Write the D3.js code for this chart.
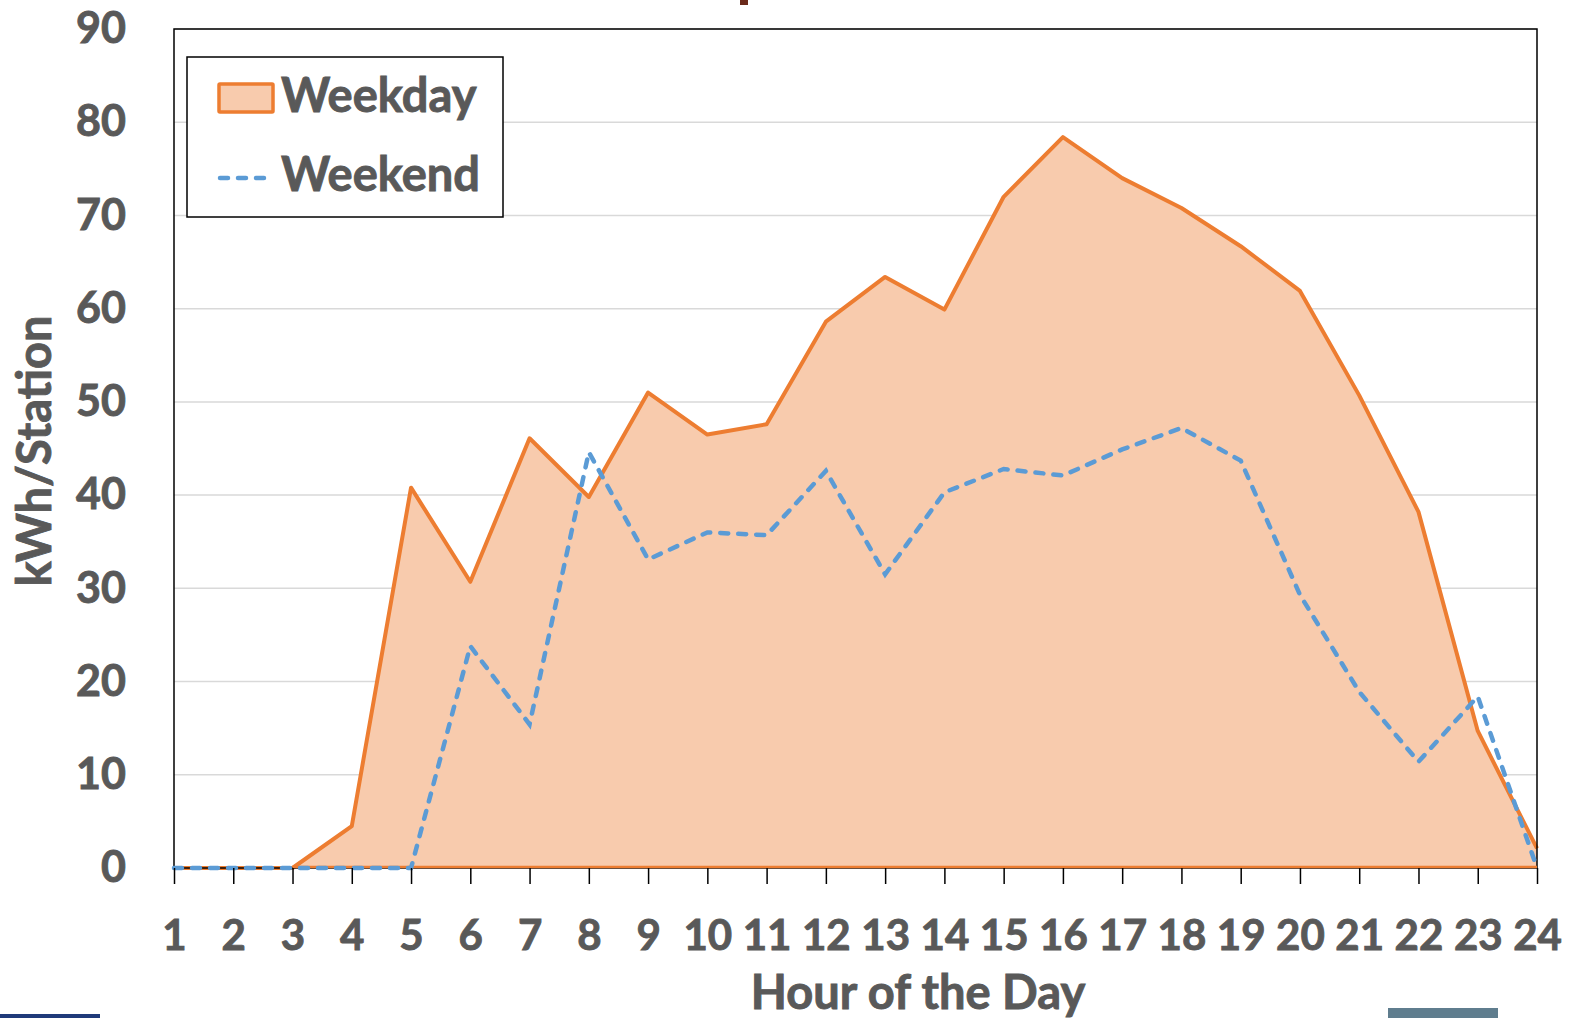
<!DOCTYPE html>
<html>
<head>
<meta charset="utf-8">
<script src="https://cdn.jsdelivr.net/npm/d3@7"></script>
<style>
  body { margin: 0; background: #fff; }
  text { font-family: Lato, "Open Sans", sans-serif; font-weight: bold; fill: #595959; stroke: #595959; stroke-width: 0.9px; }
</style>
</head>
<body>
<div id="chart"></div>
<script>

let hours = d3.range(1, 25);
let weekday = [0, 0, 0, 4.5, 40.8, 30.7, 46.1, 39.8, 51.0, 46.5, 47.6, 58.6,
               63.4, 59.9, 72.0, 78.4, 74.0, 70.8, 66.7, 61.9, 50.7, 38.2, 14.7, 2.1];
let weekend = [0, 0, 0, 0, 0, 23.8, 15.4, 44.6, 33.1, 36.0, 35.7, 42.6,
               31.5, 40.3, 42.8, 42.1, 44.9, 47.2, 43.7, 29.3, 18.9, 11.4, 18.4, 0];
let yTicks = [0, 10, 20, 30, 40, 50, 60, 70, 80, 90];
let seriesNames = ["Weekday", "Weekend"];

let width = 1577, height = 1018;
let plotL = 174, plotR = 1537, plotT = 29, plotB = 868;

let svg = d3.select('#chart').append('svg')
  .attr('width', width).attr('height', height);

let x = d3.scaleLinear().domain([1, 24]).range([plotL, plotR]);
let y = d3.scaleLinear().domain([0, 90]).range([plotB, plotT]);

// gridlines
svg.append('g').selectAll('line').data(yTicks.filter(d => d > 0)).join('line')
  .attr('x1', plotL).attr('x2', plotR)
  .attr('y1', d => y(d)).attr('y2', d => y(d))
  .attr('stroke', '#d9d9d9').attr('stroke-width', 1.5);

// weekday area
let pts = hours.map((h, i) => ({h: h, wd: weekday[i], we: weekend[i]}));
svg.append('path').datum(pts)
  .attr('d', d3.area().x(d => x(d.h)).y0(y(0)).y1(d => y(d.wd)))
  .attr('fill', '#f8cbad');
svg.append('path').datum(pts)
  .attr('d', d3.line().x(d => x(d.h)).y(d => y(d.wd)))
  .attr('fill', 'none').attr('stroke', '#ed7d31').attr('stroke-width', 4)
  .attr('stroke-linejoin', 'round');

// frame + axis
svg.append('path')
  .attr('d', `M${plotL},${plotB}V${plotT}H${plotR}V${plotB}`)
  .attr('fill', 'none').attr('stroke', '#000').attr('stroke-width', 1.5);
svg.append('line')
  .attr('x1', plotL).attr('x2', plotR).attr('y1', plotB).attr('y2', plotB)
  .attr('stroke', '#000').attr('stroke-width', 1.5);
svg.append('line')
  .attr('x1', x(3)).attr('x2', plotR).attr('y1', plotB - 1).attr('y2', plotB - 1)
  .attr('stroke', '#ed7d31').attr('stroke-width', 2.5);

// weekend dashed line
svg.append('path').datum(pts)
  .attr('d', d3.line().x(d => x(d.h)).y(d => y(d.we)))
  .attr('fill', 'none').attr('stroke', '#5b9bd5').attr('stroke-width', 4.5)
  .attr('stroke-dasharray', '8,10').attr('stroke-linecap', 'round');

// x axis ticks and labels
let xAxis = d3.axisBottom(x).tickValues(hours).tickSize(16).tickSizeOuter(0).tickPadding(36);
let gx = svg.append('g').attr('transform', `translate(0,${plotB})`).call(xAxis);
gx.select('.domain').remove();
gx.selectAll('.tick line').attr('stroke', '#000').attr('stroke-width', 1.5);
gx.selectAll('.tick text').attr('font-size', 42).attr('fill', '#595959')
  .attr('font-family', 'Lato, sans-serif').attr('font-weight', 'bold');

// y labels
let yAxis = d3.axisLeft(y).tickValues(yTicks).tickSize(0).tickPadding(48);
let gy = svg.append('g').attr('transform', `translate(${plotL},0)`).call(yAxis);
gy.select('.domain').remove();
gy.selectAll('.tick text').attr('font-size', 43).attr('fill', '#595959')
  .attr('font-family', 'Lato, sans-serif').attr('font-weight', 'bold');

// axis titles
svg.append('text').attr('x', 918).attr('y', 1009).attr('text-anchor', 'middle')
  .attr('font-size', 47).text('Hour of the Day');
svg.append('text').attr('transform', 'translate(51,451) rotate(-90)')
  .attr('text-anchor', 'middle').attr('font-size', 47).text('kWh/Station');

// legend
let lg = svg.append('g');
lg.append('rect').attr('x', 187).attr('y', 57).attr('width', 316).attr('height', 160)
  .attr('fill', '#fff').attr('stroke', '#000').attr('stroke-width', 1.5);
lg.append('rect').attr('x', 219).attr('y', 84).attr('width', 54).attr('height', 28)
  .attr('fill', '#f8cbad').attr('stroke', '#ed7d31').attr('stroke-width', 3.5).attr('rx', 1);
lg.append('line').attr('x1', 220).attr('x2', 268).attr('y1', 178).attr('y2', 178)
  .attr('stroke', '#5b9bd5').attr('stroke-width', 4.5)
  .attr('stroke-dasharray', '8,10').attr('stroke-linecap', 'round');
lg.selectAll('text.lab').data(seriesNames).join('text').attr('class', 'lab')
  .attr('x', 281).attr('y', (d, i) => 112 + i * 79)
  .attr('font-size', 47).text(d => d);

// slide decorations
svg.append('rect').attr('x', 740).attr('y', 0).attr('width', 8).attr('height', 5).attr('fill', '#6b2a1a');
svg.append('rect').attr('x', 0).attr('y', 1014).attr('width', 100).attr('height', 4).attr('fill', '#1f3a7a');
svg.append('rect').attr('x', 1388).attr('y', 1008).attr('width', 110).attr('height', 10).attr('fill', '#5f7d8e');

</script>
</body>
</html>
